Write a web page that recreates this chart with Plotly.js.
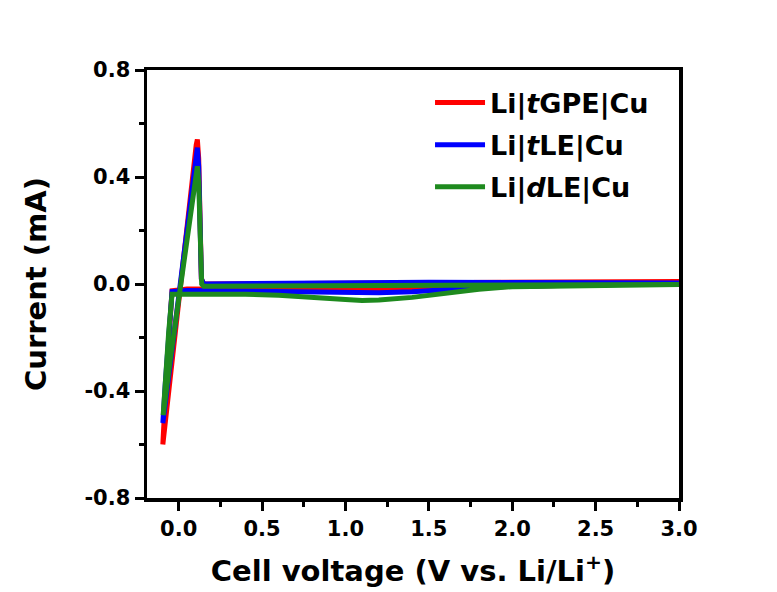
<!DOCTYPE html>
<html>
<head>
<meta charset="utf-8">
<script src="https://cdn.plot.ly/plotly-3.0.1.min.js"></script>
<style>html,body{margin:0;padding:0;background:#fff;}#chart{width:777px;height:592px;}</style>
</head>
<body>
<div id="chart"></div>
<script>
// Series names
const seriesNames = ["Li|<i>t</i>GPE|Cu", "Li|<i>t</i>LE|Cu", "Li|<i>d</i>LE|Cu"];
const seriesColors = ["#ff0000", "#0000ff", "#1e8a1e"];

// Li|tGPE|Cu (red): cathodic sweep 3.0 -> -0.1 V, then anodic sweep back to 3.0 V
const voltTGPE = [3.0, 2.75, 2.5, 2.25, 2.0, 1.8, 1.6, 1.4, 1.2, 1.0, 0.8, 0.6, 0.4, 0.2, 0.05, -0.04, -0.06, -0.08, -0.095,
  -0.05, 0.0, 0.05, 0.09, 0.105, 0.112, 0.12, 0.128, 0.136, 0.15, 0.3, 0.5, 1.0, 1.5, 2.0, 2.5, 3.0];
const currTGPE = [0.003, 0.0, -0.002, -0.003, -0.005, -0.009, -0.014, -0.019, -0.022, -0.021, -0.02, -0.019, -0.018, -0.018, -0.019, -0.025, -0.2, -0.42, -0.60,
  -0.34, -0.06, 0.22, 0.44, 0.52, 0.54, 0.47, 0.25, 0.02, 0.0, 0.0, 0.001, 0.003, 0.005, 0.006, 0.007, 0.009];

// Li|tLE|Cu (blue)
const voltTLE = [3.0, 2.75, 2.5, 2.25, 2.0, 1.8, 1.6, 1.4, 1.2, 1.0, 0.8, 0.6, 0.4, 0.2, 0.05, -0.04, -0.06, -0.08, -0.095,
  -0.05, 0.0, 0.05, 0.09, 0.105, 0.112, 0.12, 0.128, 0.136, 0.15, 0.3, 0.5, 1.0, 1.5, 2.0, 2.5, 3.0];
const currTLE = [0.002, 0.0, -0.002, -0.004, -0.008, -0.014, -0.022, -0.029, -0.033, -0.032, -0.029, -0.027, -0.025, -0.024, -0.024, -0.028, -0.18, -0.37, -0.52,
  -0.29, -0.05, 0.2, 0.41, 0.49, 0.51, 0.44, 0.23, 0.02, 0.0, 0.001, 0.003, 0.006, 0.007, 0.006, 0.005, 0.004];

// Li|dLE|Cu (green)
const voltDLE = [3.0, 2.75, 2.5, 2.25, 2.0, 1.8, 1.6, 1.4, 1.2, 1.1, 1.0, 0.8, 0.6, 0.4, 0.2, 0.05, -0.04, -0.06, -0.08, -0.093,
  -0.05, 0.0, 0.05, 0.09, 0.105, 0.112, 0.12, 0.128, 0.138, 0.15, 0.3, 0.5, 1.0, 1.5, 2.0, 2.5, 3.0];
const currDLE = [-0.002, -0.003, -0.004, -0.006, -0.01, -0.02, -0.035, -0.05, -0.06, -0.062, -0.058, -0.048, -0.042, -0.038, -0.036, -0.035, -0.038, -0.18, -0.36, -0.49,
  -0.28, -0.05, 0.17, 0.35, 0.42, 0.44, 0.38, 0.2, 0.0, -0.008, -0.008, -0.007, -0.006, -0.005, -0.004, -0.003, -0.002];

// Tick labels
const xTickVals = [0.0, 0.5, 1.0, 1.5, 2.0, 2.5, 3.0];
const xTickText = ["0.0", "0.5", "1.0", "1.5", "2.0", "2.5", "3.0"];
const yTickVals = [-0.8, -0.4, 0.0, 0.4, 0.8];
const yTickText = ["-0.8", "-0.4", "0.0", "0.4", "0.8"];

const volts = [voltTGPE, voltTLE, voltDLE];
const currs = [currTGPE, currTLE, currDLE];

const traces = seriesNames.map((name, i) => ({
  x: volts[i], y: currs[i], name: name, type: "scatter", mode: "lines",
  line: {color: seriesColors[i], width: 5},
  legendgroup: "g" + i
}));

const fontFam = "DejaVu Sans, sans-serif";
const layout = {
  width: 777, height: 592,
  margin: {l: 147, r: 98, t: 70, b: 94},
  paper_bgcolor: "#fff", plot_bgcolor: "#fff",
  showlegend: true,
  legend: {
    x: 0.532, y: 0.98, xanchor: "left", yanchor: "top",
    bgcolor: "rgba(0,0,0,0)", borderwidth: 0,
    font: {family: fontFam, size: 27, color: "#000", weight: "bold"},
    tracegroupgap: 4, itemwidth: 50
  },
  xaxis: {
    range: [-0.19, 3.0], showgrid: false, zeroline: false,
    showline: true, linecolor: "#000", linewidth: 3.5, mirror: true,
    tickmode: "array", tickvals: xTickVals, ticktext: xTickText,
    ticks: "outside", ticklen: 9, tickwidth: 3, tickcolor: "#000",
    minor: {dtick: 0.25, tick0: 0, ticks: "outside", ticklen: 5, tickwidth: 3, tickcolor: "#000"},
    tickfont: {family: fontFam, size: 21, color: "#000", weight: "bold"},
    title: {text: "Cell voltage (V vs. Li/Li<sup>+</sup>)", font: {family: fontFam, size: 29, color: "#000", weight: "bold"}, standoff: 22}
  },
  yaxis: {
    range: [-0.8, 0.8], showgrid: false, zeroline: false,
    showline: true, linecolor: "#000", linewidth: 3.5, mirror: true,
    tickmode: "array", tickvals: yTickVals, ticktext: yTickText,
    ticks: "outside", ticklen: 9, tickwidth: 3, tickcolor: "#000",
    minor: {dtick: 0.2, tick0: 0, ticks: "outside", ticklen: 5, tickwidth: 3, tickcolor: "#000"},
    tickfont: {family: fontFam, size: 21, color: "#000", weight: "bold"},
    title: {text: "Current (mA)", font: {family: fontFam, size: 29, color: "#000", weight: "bold"}, standoff: 30}
  }
};

Plotly.newPlot("chart", traces, layout, {displayModeBar: false, staticPlot: true});
</script>
</body>
</html>
